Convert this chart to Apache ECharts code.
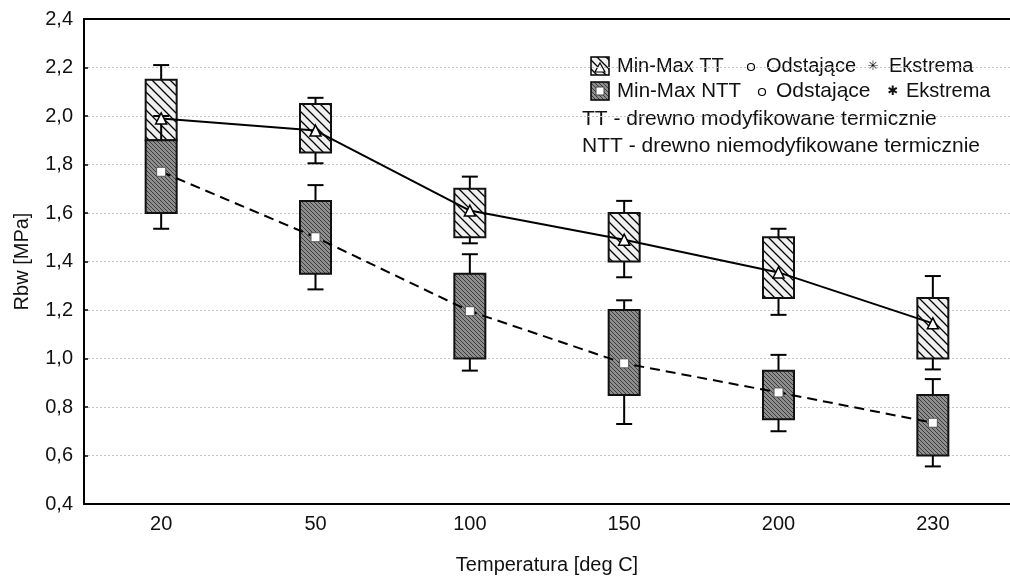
<!DOCTYPE html>
<html>
<head>
<meta charset="utf-8">
<script src="https://cdn.jsdelivr.net/npm/echarts@6/dist/echarts.min.js"></script>
<style>
  html, body { margin: 0; padding: 0; background: #fff; }
  #chart { width: 1010px; height: 580px; }
</style>
</head>
<body>
<div id="chart"></div>
<script>
// temperatures (deg C)
var categories = ['20', '50', '100', '150', '200', '230'];

// TT - thermally modified wood
var ttMean = [1.99, 1.94, 1.61, 1.49, 1.355, 1.145];
var ttBoxLow = [1.90, 1.85, 1.50, 1.40, 1.25, 1.00];
var ttBoxHigh = [2.15, 2.05, 1.70, 1.60, 1.50, 1.25];
var ttMin = [1.85, 1.805, 1.475, 1.335, 1.18, 0.955];
var ttMax = [2.21, 2.075, 1.75, 1.65, 1.535, 1.34];

// NTT - not modified wood
var nttMean = [1.77, 1.50, 1.195, 0.98, 0.86, 0.735];
var nttBoxLow = [1.60, 1.35, 1.00, 0.85, 0.75, 0.60];
var nttBoxHigh = [1.90, 1.65, 1.35, 1.20, 0.95, 0.85];
var nttMin = [1.535, 1.285, 0.95, 0.73, 0.70, 0.555];
var nttMax = [2.00, 1.715, 1.43, 1.24, 1.015, 0.915];

var yTicks = { min: 0.4, max: 2.4, step: 0.2 };

var FONT = '"Liberation Sans", Arial, sans-serif';

function makePattern(size, draw) {
  var c = document.createElement('canvas');
  c.width = size;
  c.height = size;
  draw(c.getContext('2d'), size);
  return { image: c, repeat: 'repeat' };
}

// light fill with "\" hatching
var ttPattern = makePattern(9, function (ctx, s) {
  ctx.fillStyle = '#f0f0f0';
  ctx.fillRect(0, 0, s, s);
  ctx.strokeStyle = '#000';
  ctx.lineWidth = 1.3;
  ctx.beginPath();
  ctx.moveTo(-2, -2); ctx.lineTo(s + 2, s + 2);
  ctx.moveTo(-2, s - 2); ctx.lineTo(2, s + 2);
  ctx.moveTo(s - 2, -2); ctx.lineTo(s + 2, 2);
  ctx.stroke();
});

// dark, finely hatched fill
var nttPattern = makePattern(4, function (ctx, s) {
  ctx.fillStyle = '#8e8e8e';
  ctx.fillRect(0, 0, s, s);
  ctx.fillStyle = '#3c3c3c';
  for (var k = 0; k < s; k++) ctx.fillRect(k, k, 1, 1);
});

function boxData(lo, hi, mn, mx) {
  return categories.map(function (c, i) {
    return [i, lo[i], hi[i], mn[i], mx[i]];
  });
}

function boxItem(pattern) {
  return function (params, api) {
    var i = api.value(0);
    var lo = api.coord([i, api.value(1)]);
    var hi = api.coord([i, api.value(2)]);
    var mn = api.coord([i, api.value(3)]);
    var mx = api.coord([i, api.value(4)]);
    var x = lo[0];
    var bw = 31, cw = 16;
    var line = { stroke: '#000', lineWidth: 2 };
    return {
      type: 'group',
      children: [
        { type: 'line', shape: { x1: x, y1: hi[1], x2: x, y2: mx[1] }, style: line },
        { type: 'line', shape: { x1: x - cw / 2, y1: mx[1], x2: x + cw / 2, y2: mx[1] }, style: line },
        { type: 'line', shape: { x1: x, y1: lo[1], x2: x, y2: mn[1] }, style: line },
        { type: 'line', shape: { x1: x - cw / 2, y1: mn[1], x2: x + cw / 2, y2: mn[1] }, style: line },
        {
          type: 'rect',
          shape: { x: x - bw / 2, y: hi[1], width: bw, height: lo[1] - hi[1] },
          style: { fill: pattern, stroke: '#111', lineWidth: 2 }
        }
      ]
    };
  };
}

function text(str, x, y, size) {
  return {
    type: 'text', x: x, y: y,
    style: { text: str, font: (size || 20) + 'px ' + FONT, fill: '#111', verticalAlign: 'middle' }
  };
}

function ring(cx, cy) {
  return { type: 'circle', shape: { cx: cx, cy: cy, r: 3.5 }, style: { fill: '#fff', stroke: '#000', lineWidth: 1.2 } };
}

function star(str, x, y) {
  return {
    type: 'text', x: x, y: y,
    style: { text: str, font: '13px "DejaVu Sans"', fill: '#111', verticalAlign: 'middle', align: 'center' }
  };
}

var legend = [
  { type: 'rect', shape: { x: 591, y: 57, width: 18, height: 18 }, style: { fill: ttPattern, stroke: '#000', lineWidth: 1.5 } },
  { type: 'polygon', shape: { points: [[600, 63], [605, 72], [595, 72]] }, style: { fill: '#fff', stroke: '#000', lineWidth: 1.2 } },
  text('Min-Max TT', 617, 66),
  ring(751, 67),
  text('Odstające', 766, 66),
  star('\u2733', 873, 67),
  text('Ekstrema', 889, 66),

  { type: 'rect', shape: { x: 591, y: 82, width: 18, height: 18 }, style: { fill: nttPattern, stroke: '#000', lineWidth: 1.5 } },
  { type: 'rect', shape: { x: 596, y: 87, width: 8, height: 8 }, style: { fill: '#fff', stroke: '#444', lineWidth: 1 } },
  text('Min-Max NTT', 617, 91, 20.5),
  ring(762, 92),
  text('Odstające', 776, 91, 21),
  star('\u2731', 893, 92),
  text('Ekstrema', 906, 91),

  text('TT - drewno modyfikowane termicznie', 582, 119, 21),
  text('NTT - drewno niemodyfikowane termicznie', 582, 146, 21)
];

var chart = echarts.init(document.getElementById('chart'));

var catAxis = {
  type: 'category',
  data: categories,
  boundaryGap: true,
  axisLine: { lineStyle: { color: '#000', width: 2 } },
  axisTick: { alignWithLabel: true, inside: true, length: 5, lineStyle: { color: '#000', width: 1.5 } },
  splitLine: { show: false }
};

chart.setOption({
  animation: false,
  backgroundColor: '#fff',
  textStyle: { fontFamily: FONT },
  grid: { left: 84, top: 19, width: 934, height: 488 },
  xAxis: [
    Object.assign({}, catAxis, {
      position: 'bottom',
      name: 'Temperatura [deg C]',
      nameLocation: 'middle',
      nameGap: 51,
      nameTextStyle: { fontSize: 20, color: '#111', fontFamily: FONT },
      axisLabel: { fontSize: 20, color: '#111', margin: 10, fontFamily: FONT }
    }),
    Object.assign({}, catAxis, {
      position: 'top',
      axisLabel: { show: false }
    })
  ],
  yAxis: {
    type: 'value',
    min: yTicks.min,
    max: yTicks.max,
    interval: yTicks.step,
    name: 'Rbw [MPa]',
    nameLocation: 'middle',
    nameGap: 52,
    nameTextStyle: { fontSize: 20, color: '#111', fontFamily: FONT },
    axisLine: { show: true, lineStyle: { color: '#000', width: 2 } },
    axisTick: { show: true, inside: true, length: 4, lineStyle: { color: '#000', width: 1.5 } },
    axisLabel: {
      fontSize: 20, color: '#111', margin: 11, fontFamily: FONT,
      formatter: function (v) { return v.toFixed(1).replace('.', ','); }
    },
    splitLine: { show: true, lineStyle: { color: '#c4c4c4', width: 1, type: [2, 2] } }
  },
  graphic: legend,
  series: [
    {
      type: 'custom',
      renderItem: boxItem(ttPattern),
      encode: { x: 0, y: [1, 2, 3, 4] },
      data: boxData(ttBoxLow, ttBoxHigh, ttMin, ttMax)
    },
    {
      type: 'custom',
      renderItem: boxItem(nttPattern),
      encode: { x: 0, y: [1, 2, 3, 4] },
      data: boxData(nttBoxLow, nttBoxHigh, nttMin, nttMax)
    },
    {
      type: 'line',
      data: ttMean,
      symbol: 'triangle',
      symbolSize: 11,
      lineStyle: { color: '#000', width: 2 },
      itemStyle: { color: '#fff', borderColor: '#000', borderWidth: 1.5 },
      z: 5
    },
    {
      type: 'line',
      data: nttMean,
      symbol: 'rect',
      symbolSize: 9,
      lineStyle: { color: '#000', width: 2, type: [10, 6] },
      itemStyle: { color: '#fff', borderColor: '#555', borderWidth: 1 },
      z: 5
    }
  ]
});
</script>
</body>
</html>
